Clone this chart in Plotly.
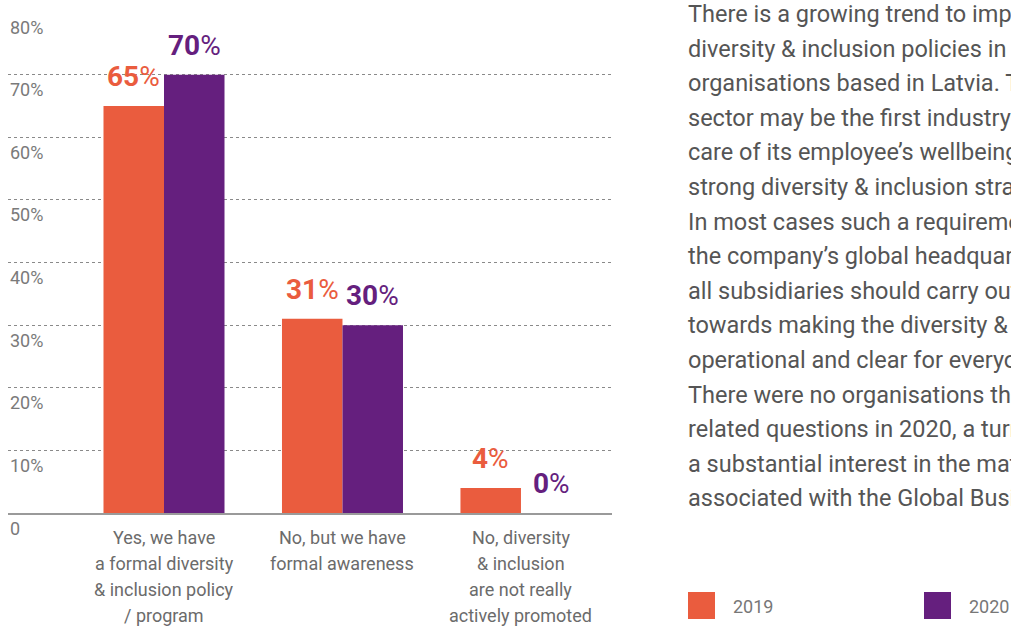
import plotly.graph_objects as go

# --- data -------------------------------------------------------------
categories = ["cat_yes", "cat_aware", "cat_no"]
category_lines = [
    ["Yes, we have", "a formal diversity", "& inclusion policy", "/ program"],
    ["No, but we have", "formal awareness"],
    ["No, diversity", "& inclusion", "are not really", "actively promoted"],
]
series_names = ["2019", "2020"]
values_2019 = [65, 31, 4]
values_2020 = [70, 30, 0]
tick_values = [0, 10, 20, 30, 40, 50, 60, 70, 80]
tick_labels = ["0", "10%", "20%", "30%", "40%", "50%", "60%", "70%", "80%"]

paragraph_lines = [
    "There is a growing trend to implement",
    "diversity & inclusion policies in the",
    "organisations based in Latvia. The",
    "sector may be the first industry to take",
    "care of its employee\u2019s wellbeing with",
    "strong diversity & inclusion strategies.",
    "In most cases such a requirement comes from",
    "the company\u2019s global headquarters, and",
    "all subsidiaries should carry out activities",
    "towards making the diversity & inclusion",
    "operational and clear for everyone.",
    "There were no organisations that skipped",
    "related questions in 2020, a turn that shows",
    "a substantial interest in the matters",
    "associated with the Global Business Services.",
]

# --- styling ------------------------------------------------------------
ORANGE = "#EA5C3E"
PURPLE = "#651F7E"
W, H = 1011, 626
PL, PR, PT, PB = 8, 612, 12, 513  # plot area in pixels
TEXT_FONT = "Roboto, sans-serif"


def px_x(px):
    return (px - PL) / (PR - PL)


def px_y(py):
    return (PB - py) / (PB - PT)


fig = go.Figure()
colors = [ORANGE, PURPLE]
for name, vals, col in zip(series_names, [values_2019, values_2020], colors):
    fig.add_trace(go.Bar(
        x=categories, y=vals, name=name, marker=dict(color=col, line=dict(width=0)),
        showlegend=False, hoverinfo="skip",
    ))

annotations = []

# value labels above each bar: bold number, lighter percent sign
bar_half = 30.2
for si, (vals, col) in enumerate(zip([values_2019, values_2020], colors)):
    shift = -bar_half if si == 0 else bar_half
    for cat, v in zip(categories, vals):
        annotations.append(dict(
            x=cat, y=v, xref="x", yref="y", xshift=shift, yshift=11,
            xanchor="center", yanchor="bottom", showarrow=False,
            text=f"<b>{v}</b>%",
            font=dict(family=TEXT_FONT, size=28, color=col),
        ))

# multi-line category labels under the axis
for cat, lines in zip(categories, category_lines):
    for i, line in enumerate(lines):
        annotations.append(dict(
            x=cat, y=0, xref="x", yref="paper", yshift=-(24 + 26.3 * i),
            xanchor="center", yanchor="middle", showarrow=False, text=line,
            font=dict(family=TEXT_FONT, size=18, color="#6b6b6b"),
        ))

# y tick labels, sitting just under each gridline at the left edge
for tv, tl in zip(tick_values, tick_labels):
    annotations.append(dict(
        x=0, y=tv, xref="paper", yref="y", yshift=-15,
        xanchor="left", yanchor="middle", showarrow=False, text=tl,
        font=dict(family=TEXT_FONT, size=18, color="#7a7a7a"),
    ))

# commentary paragraph on the right
for k, line in enumerate(paragraph_lines):
    annotations.append(dict(
        x=px_x(686), y=px_y(14 + 34.6 * k), xref="paper", yref="paper",
        xanchor="left", yanchor="middle", showarrow=False, text=line,
        font=dict(family=TEXT_FONT, size=23.5, color="#555555"),
    ))

# legend: coloured squares with year labels
shapes = []
legend_x = [688, 924]
for name, col, lx in zip(series_names, colors, legend_x):
    shapes.append(dict(
        type="rect", xref="paper", yref="paper",
        x0=px_x(lx), x1=px_x(lx + 27), y0=px_y(619), y1=px_y(592),
        fillcolor=col, line=dict(width=0),
    ))
    annotations.append(dict(
        x=px_x(lx + 43), y=px_y(606), xref="paper", yref="paper",
        xanchor="left", yanchor="middle", showarrow=False, text=name,
        font=dict(family=TEXT_FONT, size=18, color="#777777"),
    ))

fig.update_layout(
    width=W, height=H,
    margin=dict(l=PL, r=W - PR, t=PT, b=H - PB, pad=0),
    paper_bgcolor="white", plot_bgcolor="white",
    barmode="group", bargap=0.322, bargroupgap=0,
    annotations=annotations, shapes=shapes,
    showlegend=False,
    xaxis=dict(
        type="category", categoryorder="array", categoryarray=categories,
        range=[-0.874, 2.51], showticklabels=False, showgrid=False,
        zeroline=False, showline=True, linecolor="#9a9a9a", linewidth=1.5,
        ticks="", fixedrange=True,
    ),
    yaxis=dict(
        range=[0, 80], tickvals=tick_values, showticklabels=False,
        showgrid=True, gridcolor="#8a8a8a", gridwidth=1, griddash="dot",
        zeroline=False, showline=False, ticks="", fixedrange=True,
    ),
)

fig.write_html("out.html")
